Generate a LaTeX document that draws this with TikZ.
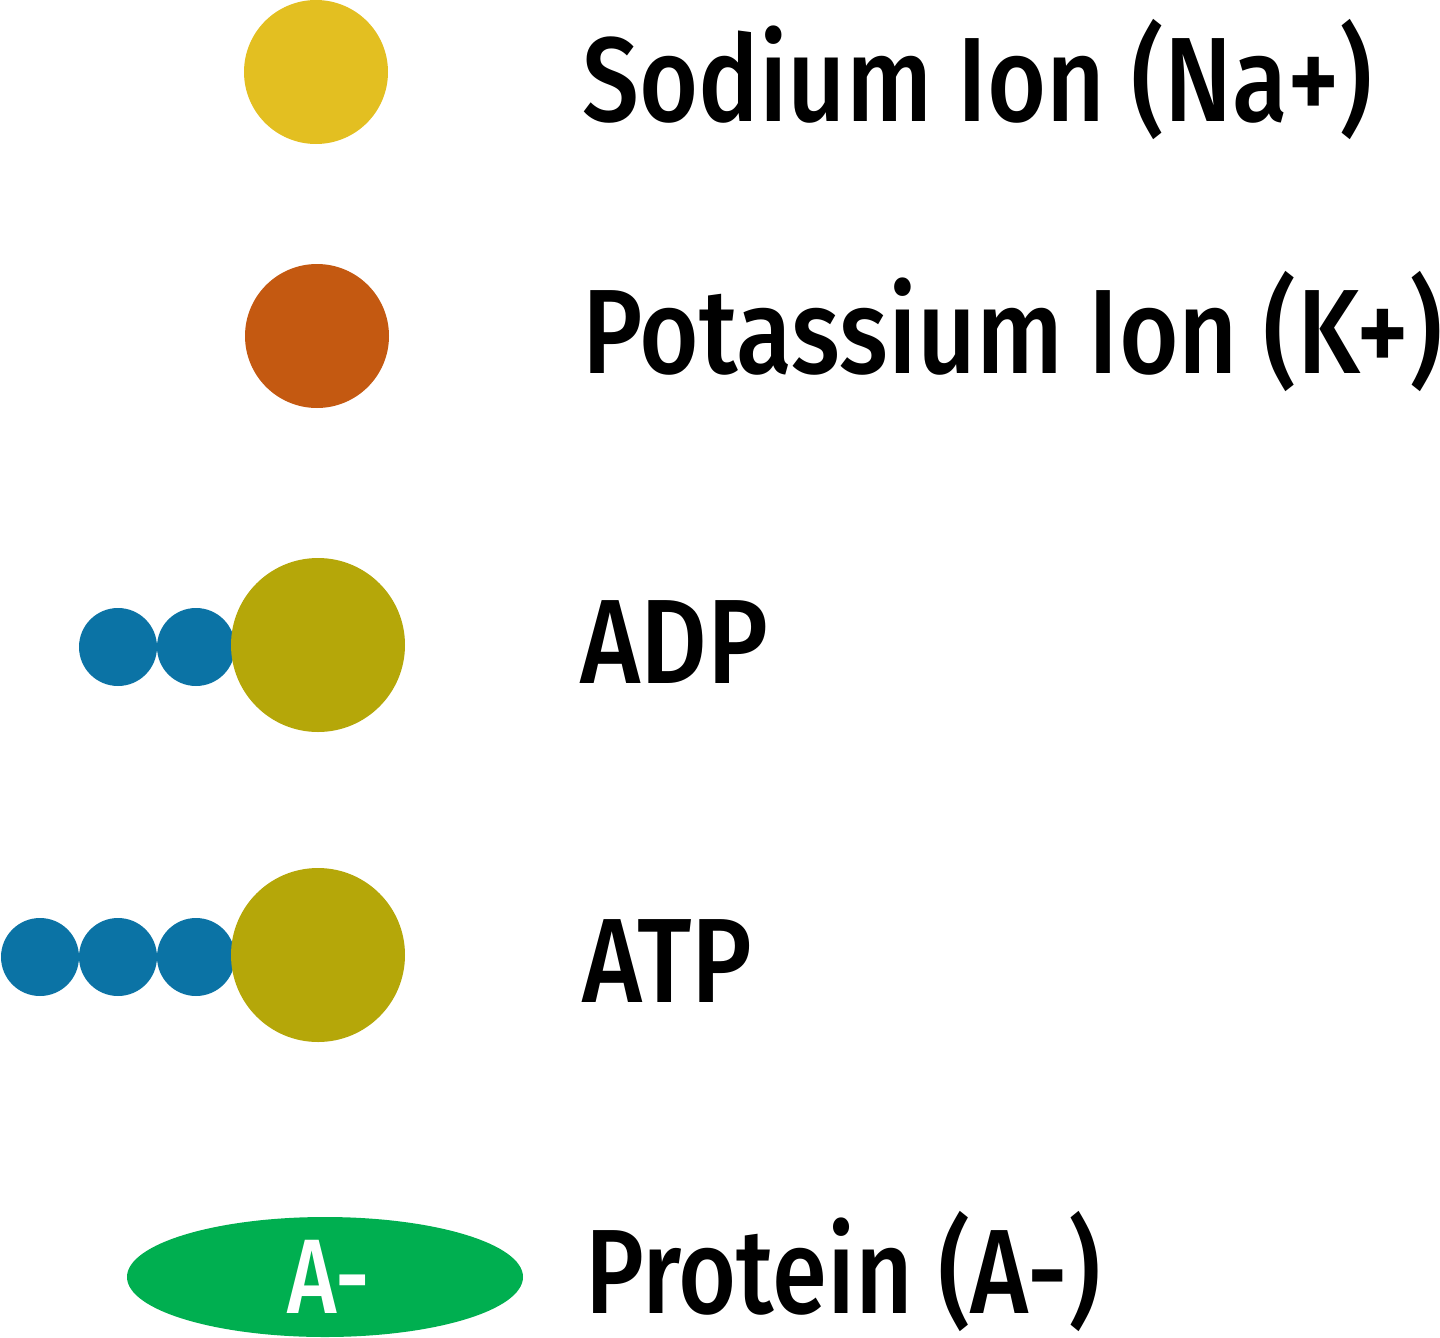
\documentclass[tikz,border=0pt]{standalone}
\usepackage{fontspec}
\setmainfont{Fira Sans}
\newfontfamily\lblfont{Fira Sans Medium}
\usetikzlibrary{shapes.geometric}
\definecolor{sodiumc}{HTML}{E3BF21}
\definecolor{potassc}{HTML}{C45911}
\definecolor{basec}{HTML}{B5A709}
\definecolor{phosc}{HTML}{0B73A5}
\definecolor{protc}{HTML}{00AF50}
\newcommand\fitto[2]{\resizebox{#1}{\height}{#2}}
\begin{document}
\begin{tikzpicture}[x=1pt,y=-1pt,
  ball/.style={circle,inner sep=0pt,minimum size=#1},
  lbl/.style={anchor=base west,inner sep=0pt,font=\fontsize{120}{128}\lblfont}]
\useasboundingbox (0,0) rectangle (1440,1338);
% Sodium
\node[ball=144pt,fill=sodiumc] (na) at (316,72) {};
\node[lbl] (naL) at (582,121) {\fitto{790pt}{Sodium Ion (Na+)}};
% Potassium
\node[ball=144pt,fill=potassc] (k) at (317,336) {};
\node[lbl] (kL) at (582,373) {\fitto{860pt}{Potassium Ion (K+)}};
% ADP
\node[ball=78pt,fill=phosc] (adp1) at (118,647) {};
\node[ball=78pt,fill=phosc] (adp2) at (196,647) {};
\node[ball=174pt,fill=basec] (adpB) at (318,645) {};
\node[lbl] (adpL) at (580,683) {\fitto{188pt}{ADP}};
% ATP
\node[ball=78pt,fill=phosc] (atp1) at (40,957) {};
\node[ball=78pt,fill=phosc] (atp2) at (118,957) {};
\node[ball=78pt,fill=phosc] (atp3) at (196,957) {};
\node[ball=174pt,fill=basec] (atpB) at (318,955) {};
\node[lbl] (atpL) at (582,1002) {\fitto{170pt}{ATP}};
% Protein
\node[ellipse,fill=protc,inner sep=0pt,minimum width=396pt,minimum height=120pt] (prot) at (325,1277) {};
\node[lbl,text=white,font=\fontsize{106}{112}\lblfont] (protA) at (287,1313) {\fitto{83pt}{A-}};
\node[lbl] (protL) at (585,1313) {\fitto{515pt}{Protein (A-)}};
\end{tikzpicture}
\end{document}
